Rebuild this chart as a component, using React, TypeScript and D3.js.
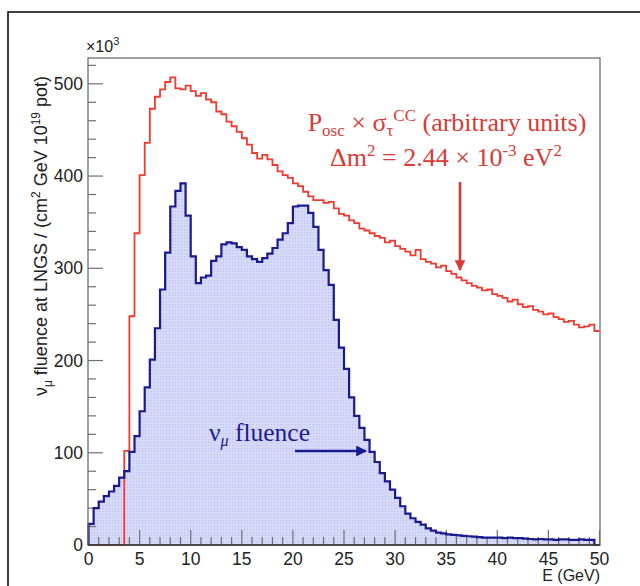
import React from "react";
import * as d3 from "d3";

const binWidth = 0.5;
const fluence = [
  23, 40, 47, 53, 58, 64, 73, 80, 101, 118,
  145, 171, 201, 235, 277, 317, 367, 384, 392, 357,
  313, 284, 290, 292, 308, 313, 326, 328, 327, 323,
  320, 313, 310, 307, 311, 316, 322, 331, 338, 349,
  367, 368, 368, 360, 345, 320, 298, 282, 244, 214,
  191, 160, 140, 127, 114, 101, 90, 78, 69, 60,
  51, 42, 34, 29, 25, 22, 18, 15.5, 13.5, 12.5,
  11.5, 11, 10.5, 10, 9.5, 9, 8.5, 8, 8, 8,
  8, 7.5, 8, 7.5, 7.5, 7, 6.5, 6, 6.5, 6,
  6, 5.5, 6, 6, 5.5, 5.5, 6, 5.5, 5.5, 0,
];
const oscXsec = [
  0, 0, 0, 0, 0, 0, 0, 102, 248, 338,
  401, 436, 473, 486, 494, 502, 507, 495, 494, 498,
  492, 487, 490, 483, 480, 470, 467, 459, 454, 448,
  441, 434, 425, 419, 423, 418, 412, 405, 401, 398,
  392, 389, 383, 378, 374, 374, 371, 372, 365, 359,
  357, 352, 349, 343, 341, 338, 335, 333, 328, 330,
  324, 321, 318, 314, 320, 310, 307, 305, 301, 303,
  297, 294, 290, 287, 284, 281, 279, 276, 277, 272,
  270, 268, 264, 266, 261, 258, 259, 255, 253, 250,
  251, 247, 245, 242, 243, 239, 236, 237, 239, 232,
];
const xTicks = [0, 5, 10, 15, 20, 25, 30, 35, 40, 45, 50];
const yTicks = [0, 100, 200, 300, 400, 500];

const L = 88, R = 600, T = 58, B = 545;

export default function App() {
  const x = d3.scaleLinear().domain([0, 50]).range([88.5, 599.5]);
  const y = d3.scaleLinear().domain([0, 528]).range([B, T]);

  const toPts = (vals: number[]) => {
    const pts: [number, number][] = [[0, 0]];
    vals.forEach((v, i) => pts.push([i * binWidth, v]));
    pts.push([vals.length * binWidth, vals[vals.length - 1]]);
    return pts;
  };
  const line = d3
    .line<[number, number]>()
    .x((d) => x(d[0]))
    .y((d) => y(d[1]))
    .curve(d3.curveStepAfter);
  const area = d3
    .area<[number, number]>()
    .x((d) => x(d[0]))
    .y0(y(0))
    .y1((d) => y(d[1]))
    .curve(d3.curveStepAfter);

  const bluePts = toPts(fluence);
  const redPts = toPts(oscXsec);

  const yMinor = d3.range(0, 521, 20);
  const xMinor = d3.range(0, 51, 1);

  const sans = "'Liberation Sans', Arial, Helvetica, sans-serif";
  const serif = "'Liberation Serif', 'DejaVu Serif', serif";
  const red = "#d93a36";
  const navy = "#1a1a90";

  return (
    <svg
      width={640}
      height={586}
      style={{ position: "absolute", left: 0, top: 0, background: "#fff" }}
    >
      <defs>
        <pattern id="dots" width="3" height="3" patternUnits="userSpaceOnUse">
          <rect width="3" height="3" fill="#d5d8f7" />
          <rect x="1" y="1" width="1" height="1" fill="#babff0" />
        </pattern>
        <marker id="arrR" viewBox="0 0 10 10" refX="9" refY="5" markerWidth="4.2" markerHeight="4.2" orient="auto">
          <path d="M0,0 L10,5 L0,10 z" fill={red} />
        </marker>
        <marker id="arrB" viewBox="0 0 10 10" refX="9" refY="5" markerWidth="4.2" markerHeight="4.2" orient="auto">
          <path d="M0,0 L10,5 L0,10 z" fill={navy} />
        </marker>
      </defs>
      {/* outer frame */}
      <path d="M8,586 L8,12 L640,12" fill="none" stroke="#000" strokeWidth={1.5} />

      {/* fill */}
      <path d={area(bluePts) || ""} fill="url(#dots)" />

      {/* ticks y */}
      {yMinor.map((v) => (
        <line key={"ym" + v} x1={L} x2={L + (v % 100 === 0 ? 15 : 8)} y1={y(v)} y2={y(v)} stroke="#6f6f6f" strokeWidth={1.2} />
      ))}
      {/* ticks x */}
      {xMinor.map((v) => (
        <line key={"xm" + v} x1={x(v)} x2={x(v)} y1={B} y2={B - (v % 5 === 0 ? 15 : 8)} stroke="#6f6f6f" strokeWidth={1.2} />
      ))}

      {/* histograms */}
      <path d={line(redPts) || ""} fill="none" stroke="#f03a30" strokeWidth={1.8} />
      <path d={line(bluePts) || ""} fill="none" stroke={navy} strokeWidth={2.2} />

      {/* plot box */}
      <rect x={L} y={T} width={R - L} height={B - T} fill="none" stroke="#6f6f6f" strokeWidth={1.3} />
      <line x1={L} x2={R} y1={B} y2={B} stroke="#333" strokeWidth={1.6} />

      {/* tick labels */}
      {yTicks.map((v) => (
        <text key={"yl" + v} x={L - 5} y={y(v) + 6} textAnchor="end" fontFamily={sans} fontSize={17.5} fill="#222">
          {v}
        </text>
      ))}
      {xTicks.map((v) => (
        <text key={"xl" + v} x={x(v)} y={B + 20} textAnchor="middle" fontFamily={sans} fontSize={17.5} fill="#222">
          {v}
        </text>
      ))}
      <text x={86} y={52} fontFamily={sans} fontSize={16} fill="#222">
        ×10<tspan dy={-7} fontSize={11}>3</tspan>
      </text>
      <text x={600} y={581} textAnchor="end" fontFamily={sans} fontSize={16} fill="#222">
        E (GeV)
      </text>
      <text transform="translate(47,236) rotate(-90)" textAnchor="middle" fontFamily={sans} fontSize={18} fill="#222">
        ν<tspan dy={5} fontSize={12}>μ</tspan>
        <tspan dy={-5}> fluence at LNGS / (cm</tspan>
        <tspan dy={-7} fontSize={12}>2</tspan>
        <tspan dy={7}> GeV 10</tspan>
        <tspan dy={-7} fontSize={12}>19</tspan>
        <tspan dy={7}> pot)</tspan>
      </text>

      {/* annotations */}
      <text x={447} y={131} textAnchor="middle" fontFamily={serif} fontSize={26} fill={red}>
        P<tspan dy={5} fontSize={17}>osc</tspan>
        <tspan dy={-5}> × σ</tspan>
        <tspan dy={5} fontSize={17}>τ</tspan>
        <tspan dy={-15} fontSize={17}>CC</tspan>
        <tspan dy={10}> (arbitrary units)</tspan>
      </text>
      <text x={446} y={166} textAnchor="middle" fontFamily={serif} fontSize={26} fill={red}>
        Δm<tspan dy={-10} fontSize={17}>2</tspan>
        <tspan dy={10}> = 2.44 × 10</tspan>
        <tspan dy={-10} fontSize={17}>-3</tspan>
        <tspan dy={10}> eV</tspan>
        <tspan dy={-10} fontSize={17}>2</tspan>
      </text>
      <line x1={460} y1={182} x2={460} y2={270} stroke={red} strokeWidth={2.6} markerEnd="url(#arrR)" />

      <text x={209} y={441} fontFamily={serif} fontSize={25.5} fill={navy}>
        ν<tspan dy={5} fontSize={16} fontStyle="italic">μ</tspan>
        <tspan dy={-5}> fluence</tspan>
      </text>
      <line x1={295} y1={451} x2={366} y2={451} stroke={navy} strokeWidth={2.6} markerEnd="url(#arrB)" />
    </svg>
  );
}
